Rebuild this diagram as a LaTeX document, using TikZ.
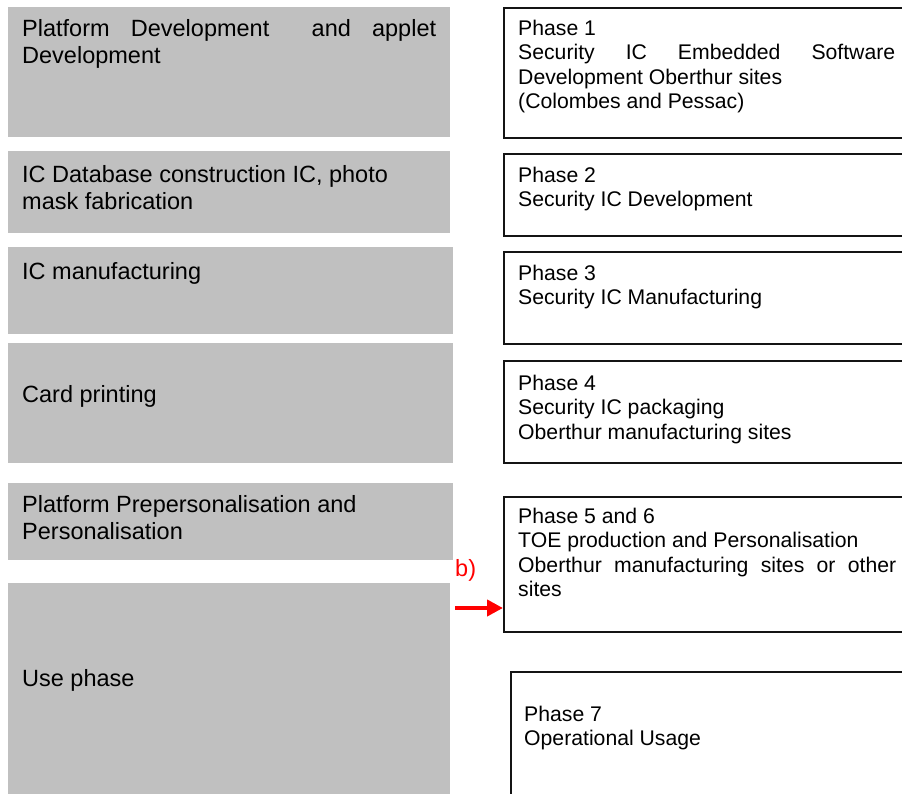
\documentclass[tikz,border=0pt]{standalone}
\usepackage{fontspec}
\setmainfont{Liberation Sans}
\usetikzlibrary{arrows.meta}
\definecolor{boxgray}{RGB}{192,192,192}
\definecolor{arrred}{RGB}{255,0,0}
\definecolor{edgeblack}{RGB}{20,20,20}
\newcommand\leftfnt{\fontsize{23.5}{27.4}\selectfont}
\newcommand\rightfnt{\fontsize{21.2}{24.3}\selectfont}
\begin{document}
\begin{tikzpicture}[x=1pt,y=-1pt,
  graybox/.style={rectangle, fill=boxgray, draw=none, anchor=north west, inner sep=0pt},
  phasebox/.style={rectangle, fill=white, draw=edgeblack, line width=1.8pt, anchor=north west, inner sep=0pt},
  lefttext/.style={anchor=north west, inner sep=0pt, align=left, font=\leftfnt, text=black},
  righttext/.style={anchor=north west, inner sep=0pt, align=left, font=\rightfnt, text=black},
  redarrow/.style={draw=arrred, line width=4pt, -{Triangle[length=16pt,width=16pt]}},
  redlabel/.style={anchor=base west, inner sep=0pt, font=\leftfnt, text=arrred}]
\useasboundingbox (0,0) rectangle (902,794);
\clip (0,0) rectangle (902,794);
\fill[white] (0,0) rectangle (902,794);

% left gray boxes
\node[graybox, minimum width=442pt, minimum height=130pt] (L1) at (8,7) {};
\node[graybox, minimum width=442pt, minimum height=82pt]  (L2) at (8,151) {};
\node[graybox, minimum width=445pt, minimum height=87pt]  (L3) at (8,247) {};
\node[graybox, minimum width=445pt, minimum height=120pt] (L4) at (8,343) {};
\node[graybox, minimum width=445pt, minimum height=77pt]  (L5) at (8,483) {};
\node[graybox, minimum width=442pt, minimum height=230pt] (L6) at (8,583) {};

\node[lefttext] (LT1) at (22,19) {\makebox[414pt][s]{Platform Development~ and applet}\\Development};
\node[lefttext] (LT2) at (22,165) {IC Database construction IC, photo\\mask fabrication};
\node[lefttext] (LT3) at (22,262) {IC manufacturing};
\node[lefttext] (LT4) at (22,385) {Card printing};
\node[lefttext] (LT5) at (22,495) {Platform Prepersonalisation and\\Personalisation};
\node[lefttext] (LT6) at (22,669) {Use phase};

% right phase boxes
\node[phasebox, minimum width=410pt, minimum height=130pt] (R1) at (503,7) {};
\node[phasebox, minimum width=410pt, minimum height=82pt]  (R2) at (503,153) {};
\node[phasebox, minimum width=410pt, minimum height=92pt]  (R3) at (503,251) {};
\node[phasebox, minimum width=410pt, minimum height=102pt] (R4) at (503,360) {};
\node[phasebox, minimum width=410pt, minimum height=135pt] (R5) at (503,496) {};
\node[phasebox, minimum width=410pt, minimum height=140pt] (R6) at (510,671) {};

\node[righttext] (RT1) at (518,20) {Phase 1\\\makebox[377pt][s]{Security IC Embedded Software}\\Development Oberthur sites\\(Colombes and Pessac)};
\node[righttext] (RT2) at (518,167) {Phase 2\\Security IC Development};
\node[righttext] (RT3) at (518,265) {Phase 3\\Security IC Manufacturing};
\node[righttext] (RT4) at (518,375) {Phase 4\\Security IC packaging\\Oberthur manufacturing sites};
\node[righttext] (RT5) at (518,508) {Phase 5 and 6\\TOE production and Personalisation\\\makebox[378pt][s]{Oberthur manufacturing sites or other}\\sites};
\node[righttext] (RT6) at (524,706) {Phase 7\\Operational Usage};

% red arrow b)
\coordinate (bs) at (455,608);
\draw[redarrow] (bs) -- (bs -| R5.west);
\node[redlabel] (blab) at (455,576) {b)};
\end{tikzpicture}
\end{document}
